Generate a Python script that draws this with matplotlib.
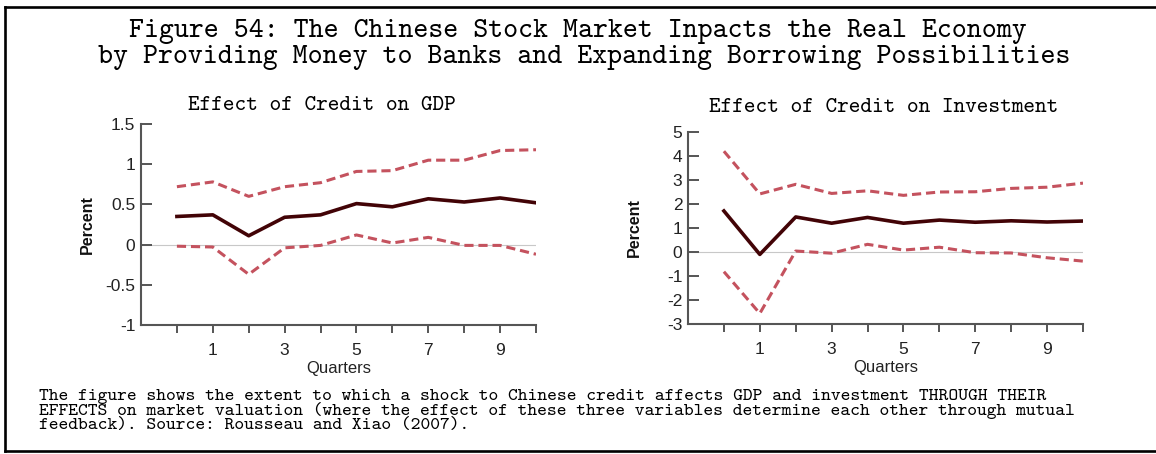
"""Recreation of Figure 54: credit impulse responses (GDP and investment)."""

import matplotlib
matplotlib.use('Agg')
import matplotlib.pyplot as plt
from matplotlib.lines import Line2D
import numpy as np

plt.rcParams['axes.unicode_minus'] = False

# ---- data ----
quarters = np.arange(0, 11)

gdp_mid   = [0.35, 0.37, 0.11, 0.34, 0.37, 0.51, 0.47, 0.57, 0.53, 0.58, 0.52]
gdp_upper = [0.72, 0.78, 0.60, 0.72, 0.77, 0.91, 0.92, 1.05, 1.05, 1.17, 1.18]
gdp_lower = [-0.02, -0.03, -0.37, -0.04, -0.01, 0.12, 0.02, 0.09, -0.01, -0.01, -0.12]

inv_mid   = [1.71, -0.10, 1.46, 1.20, 1.44, 1.20, 1.33, 1.24, 1.30, 1.25, 1.29]
inv_upper = [4.20, 2.42, 2.82, 2.44, 2.55, 2.36, 2.50, 2.51, 2.65, 2.70, 2.87]
inv_lower = [-0.82, -2.56, 0.04, -0.05, 0.32, 0.08, 0.20, -0.03, -0.04, -0.24, -0.38]

gdp_yticks = [-1, -0.5, 0, 0.5, 1, 1.5]
gdp_ylabels = ['-1', '-0.5', '0', '0.5', '1', '1.5']
inv_yticks = [-3, -2, -1, 0, 1, 2, 3, 4, 5]
inv_ylabels = ['-3', '-2', '-1', '0', '1', '2', '3', '4', '5']
x_labels = ['', '1', '', '3', '', '5', '', '7', '', '9', '']

title_lines = [
    'Figure 54: The Chinese Stock Market Inpacts the Real Economy',
    'by Providing Money to Banks and Expanding Borrowing Possibilities',
]
caption_lines = [
    'The figure shows the extent to which a shock to Chinese credit affects GDP and investment THROUGH THEIR',
    'EFFECTS on market valuation (where the effect of these three variables determine each other through mutual',
    'feedback). Source: Rousseau and Xiao (2007).',
]

W, H = 1156, 454
MONO = 'cmtt10'
SANS = 'Liberation Sans'
MID_COLOR = '#420306'
BAND_COLOR = '#c4525e'
SPINE_COLOR = '#555555'


def px(x, y):
    """pixel (top-left origin) -> figure fraction"""
    return x / W, 1 - y / H


def draw_panel(ax, mid, upper, lower, yticks, ylabels):
    ax.axhline(0, color='#c8c8c8', lw=0.8, zorder=1)
    ax.plot(quarters, upper, color=BAND_COLOR, lw=2.2, ls=(0, (3, 1.6)), zorder=2)
    ax.plot(quarters, lower, color=BAND_COLOR, lw=2.2, ls=(0, (3, 1.6)), zorder=2)
    ax.plot(quarters, mid, color=MID_COLOR, lw=2.6, zorder=3)

    ax.set_xlim(-1, 10)
    ax.set_ylim(yticks[0], yticks[-1])
    ax.set_xticks(quarters)
    ax.set_xticklabels(x_labels)
    ax.set_yticks(yticks)
    ax.set_yticklabels(ylabels)

    for side in ('top', 'right'):
        ax.spines[side].set_visible(False)
    for side in ('left', 'bottom'):
        ax.spines[side].set_color(SPINE_COLOR)
        ax.spines[side].set_linewidth(1.5)

    ax.tick_params(axis='x', direction='out', length=6, width=1.4,
                   color=SPINE_COLOR, pad=7, labelsize=12.5)
    ax.tick_params(axis='y', direction='in', length=8, width=1.4,
                   color=SPINE_COLOR, pad=4, labelsize=12.5)
    for lab in ax.get_xticklabels() + ax.get_yticklabels():
        lab.set_fontfamily(SANS)
        lab.set_color('#222222')

    ax.set_xlabel('Quarters', fontfamily=SANS, fontsize=12, labelpad=2,
                  color='#222222')
    ax.set_ylabel('Percent', fontfamily=SANS, fontsize=11.5, fontweight='bold',
                  color='#111111')
    ax.yaxis.set_label_coords(-0.116, 0.5)


fig = plt.figure(figsize=(W / 100, H / 100), dpi=100)

# axes rectangles measured in pixels: left, top, right, bottom
ax1 = fig.add_axes([141 / W, 1 - 325 / H, (536 - 141) / W, (325 - 124) / H])
ax2 = fig.add_axes([688 / W, 1 - 324 / H, (1083 - 688) / W, (324 - 132) / H])

draw_panel(ax1, gdp_mid, gdp_upper, gdp_lower, gdp_yticks, gdp_ylabels)
draw_panel(ax2, inv_mid, inv_upper, inv_lower, inv_yticks, inv_ylabels)

# titles
fig.text(*px(578, 32), title_lines[0], family=MONO, fontsize=20.5,
         ha='center', va='center')
fig.text(*px(584, 57), title_lines[1], family=MONO, fontsize=20.5,
         ha='center', va='center')
fig.text(*px(322, 106), 'Effect of Credit on GDP', family=MONO, fontsize=16,
         ha='center', va='center')
fig.text(*px(884, 107), 'Effect of Credit on Investment', family=MONO,
         fontsize=16, ha='center', va='center')

# caption (one block so the tight line pitch of the original is kept)
fig.text(*px(39, 411), '\n'.join(caption_lines), family=MONO, fontsize=13.4,
         ha='left', va='center', linespacing=0.86)

# frame around the figure
lw = 1.9
fig.add_artist(Line2D([5 / W, 5 / W], [1 - 6.5 / H, 1 - 450.5 / H],
                      color='black', lw=lw, transform=fig.transFigure))
fig.add_artist(Line2D([5 / W, 1.01], [1 - 6.5 / H, 1 - 6.5 / H],
                      color='black', lw=lw, transform=fig.transFigure))
fig.add_artist(Line2D([5 / W, 1.01], [1 - 450.5 / H, 1 - 450.5 / H],
                      color='black', lw=lw, transform=fig.transFigure))

fig.savefig('out.png', dpi=100)
plt.close(fig)
